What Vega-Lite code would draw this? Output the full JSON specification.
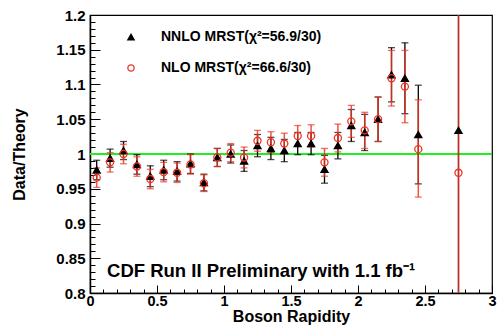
{
  "$schema": "https://vega.github.io/schema/vega-lite/v6.json",
  "width": 402,
  "height": 278,
  "autosize": "none",
  "padding": {"left": 90, "top": 15, "right": 5, "bottom": 35},
  "background": "white",
  "config": {
    "font": "Liberation Sans",
    "view": {"stroke": "black", "strokeWidth": 1.2},
    "axis": {
      "labelFont": "Liberation Sans",
      "labelFontWeight": "bold",
      "labelFontSize": 15,
      "labelColor": "black",
      "titleFont": "Liberation Sans",
      "titleFontWeight": "bold",
      "titleFontSize": 16,
      "titleColor": "black",
      "tickColor": "black",
      "domainColor": "black",
      "grid": false,
      "labelOverlap": false,
      "labelFlush": false
    },
    "legend": {
      "labelFont": "Liberation Sans",
      "labelFontWeight": "bold",
      "labelFontSize": 14,
      "labelColor": "black",
      "labelLimit": 0
    }
  },
  "datasets": {
    "pts": [
      {"x": 0.05, "s": "NNLO MRST(χ²=56.9/30)", "y": 0.977, "lo": 0.963, "hi": 0.991},
      {"x": 0.15, "s": "NNLO MRST(χ²=56.9/30)", "y": 0.994, "lo": 0.981, "hi": 1.007},
      {"x": 0.25, "s": "NNLO MRST(χ²=56.9/30)", "y": 1.005, "lo": 0.992, "hi": 1.018},
      {"x": 0.35, "s": "NNLO MRST(χ²=56.9/30)", "y": 0.985, "lo": 0.971, "hi": 0.999},
      {"x": 0.45, "s": "NNLO MRST(χ²=56.9/30)", "y": 0.968, "lo": 0.953, "hi": 0.983},
      {"x": 0.55, "s": "NNLO MRST(χ²=56.9/30)", "y": 0.977, "lo": 0.963, "hi": 0.991},
      {"x": 0.65, "s": "NNLO MRST(χ²=56.9/30)", "y": 0.975, "lo": 0.961, "hi": 0.989},
      {"x": 0.75, "s": "NNLO MRST(χ²=56.9/30)", "y": 0.986, "lo": 0.972, "hi": 1.0},
      {"x": 0.85, "s": "NNLO MRST(χ²=56.9/30)", "y": 0.959, "lo": 0.947, "hi": 0.971},
      {"x": 0.95, "s": "NNLO MRST(χ²=56.9/30)", "y": 0.995, "lo": 0.982, "hi": 1.008},
      {"x": 1.05, "s": "NNLO MRST(χ²=56.9/30)", "y": 1.0, "lo": 0.987, "hi": 1.013},
      {"x": 1.15, "s": "NNLO MRST(χ²=56.9/30)", "y": 0.99, "lo": 0.975, "hi": 1.005},
      {"x": 1.25, "s": "NNLO MRST(χ²=56.9/30)", "y": 1.012, "lo": 0.996, "hi": 1.028},
      {"x": 1.35, "s": "NNLO MRST(χ²=56.9/30)", "y": 1.008, "lo": 0.992, "hi": 1.024},
      {"x": 1.45, "s": "NNLO MRST(χ²=56.9/30)", "y": 1.005, "lo": 0.989, "hi": 1.021},
      {"x": 1.55, "s": "NNLO MRST(χ²=56.9/30)", "y": 1.015, "lo": 0.999, "hi": 1.031},
      {"x": 1.65, "s": "NNLO MRST(χ²=56.9/30)", "y": 1.015, "lo": 0.999, "hi": 1.031},
      {"x": 1.75, "s": "NNLO MRST(χ²=56.9/30)", "y": 0.978, "lo": 0.958, "hi": 0.998},
      {"x": 1.85, "s": "NNLO MRST(χ²=56.9/30)", "y": 1.012, "lo": 0.993, "hi": 1.031},
      {"x": 1.95, "s": "NNLO MRST(χ²=56.9/30)", "y": 1.041, "lo": 1.018, "hi": 1.064},
      {"x": 2.05, "s": "NNLO MRST(χ²=56.9/30)", "y": 1.031, "lo": 1.005, "hi": 1.057},
      {"x": 2.15, "s": "NNLO MRST(χ²=56.9/30)", "y": 1.05, "lo": 1.018, "hi": 1.082},
      {"x": 2.25, "s": "NNLO MRST(χ²=56.9/30)", "y": 1.114, "lo": 1.075, "hi": 1.153},
      {"x": 2.35, "s": "NNLO MRST(χ²=56.9/30)", "y": 1.109, "lo": 1.058, "hi": 1.16},
      {"x": 2.45, "s": "NNLO MRST(χ²=56.9/30)", "y": 1.028, "lo": 0.957, "hi": 1.099},
      {"x": 2.75, "s": "NNLO MRST(χ²=56.9/30)", "y": 1.034, "lo": 0.7, "hi": 1.4},
      {"x": 0.05, "s": "NLO MRST(χ²=66.6/30)", "y": 0.966, "lo": 0.952, "hi": 0.98},
      {"x": 0.15, "s": "NLO MRST(χ²=66.6/30)", "y": 0.988, "lo": 0.974, "hi": 1.002},
      {"x": 0.25, "s": "NLO MRST(χ²=66.6/30)", "y": 1.0, "lo": 0.986, "hi": 1.014},
      {"x": 0.35, "s": "NLO MRST(χ²=66.6/30)", "y": 0.982, "lo": 0.968, "hi": 0.996},
      {"x": 0.45, "s": "NLO MRST(χ²=66.6/30)", "y": 0.964, "lo": 0.95, "hi": 0.978},
      {"x": 0.55, "s": "NLO MRST(χ²=66.6/30)", "y": 0.974, "lo": 0.96, "hi": 0.988},
      {"x": 0.65, "s": "NLO MRST(χ²=66.6/30)", "y": 0.973, "lo": 0.959, "hi": 0.987},
      {"x": 0.75, "s": "NLO MRST(χ²=66.6/30)", "y": 0.985, "lo": 0.971, "hi": 0.999},
      {"x": 0.85, "s": "NLO MRST(χ²=66.6/30)", "y": 0.958, "lo": 0.946, "hi": 0.97},
      {"x": 0.95, "s": "NLO MRST(χ²=66.6/30)", "y": 0.995, "lo": 0.982, "hi": 1.008},
      {"x": 1.05, "s": "NLO MRST(χ²=66.6/30)", "y": 1.002, "lo": 0.989, "hi": 1.015},
      {"x": 1.15, "s": "NLO MRST(χ²=66.6/30)", "y": 0.995, "lo": 0.98, "hi": 1.01},
      {"x": 1.25, "s": "NLO MRST(χ²=66.6/30)", "y": 1.019, "lo": 1.004, "hi": 1.034},
      {"x": 1.35, "s": "NLO MRST(χ²=66.6/30)", "y": 1.017, "lo": 1.002, "hi": 1.032},
      {"x": 1.45, "s": "NLO MRST(χ²=66.6/30)", "y": 1.015, "lo": 1.0, "hi": 1.03},
      {"x": 1.55, "s": "NLO MRST(χ²=66.6/30)", "y": 1.026, "lo": 1.011, "hi": 1.041},
      {"x": 1.65, "s": "NLO MRST(χ²=66.6/30)", "y": 1.026, "lo": 1.01, "hi": 1.042},
      {"x": 1.75, "s": "NLO MRST(χ²=66.6/30)", "y": 0.988, "lo": 0.968, "hi": 1.008},
      {"x": 1.85, "s": "NLO MRST(χ²=66.6/30)", "y": 1.023, "lo": 1.003, "hi": 1.043},
      {"x": 1.95, "s": "NLO MRST(χ²=66.6/30)", "y": 1.047, "lo": 1.024, "hi": 1.07},
      {"x": 2.05, "s": "NLO MRST(χ²=66.6/30)", "y": 1.034, "lo": 1.008, "hi": 1.06},
      {"x": 2.15, "s": "NLO MRST(χ²=66.6/30)", "y": 1.05, "lo": 1.018, "hi": 1.082},
      {"x": 2.25, "s": "NLO MRST(χ²=66.6/30)", "y": 1.109, "lo": 1.069, "hi": 1.149},
      {"x": 2.35, "s": "NLO MRST(χ²=66.6/30)", "y": 1.097, "lo": 1.045, "hi": 1.149},
      {"x": 2.45, "s": "NLO MRST(χ²=66.6/30)", "y": 1.007, "lo": 0.938, "hi": 1.078},
      {"x": 2.75, "s": "NLO MRST(χ²=66.6/30)", "y": 0.973, "lo": 0.6, "hi": 1.4}
    ],
    "note": [{"label": "CDF Run II Preliminary with 1.1 fb⁻¹"}]
  },
  "data": {"name": "pts"},
  "resolve": {"axis": {"x": "independent", "y": "independent"}},
  "layer": [
    {
      "mark": {"type": "rule", "color": "#22ee22", "strokeWidth": 1.6},
      "encoding": {
        "x": {"datum": 0, "type": "quantitative", "scale": {"domain": [0, 3], "nice": false, "zero": false},
          "axis": {"orient": "bottom", "values": [0,0.1,0.2,0.3,0.4,0.5,0.6,0.7,0.8,0.9,1,1.1,1.2,1.3,1.4,1.5,1.6,1.7,1.8,1.9,2,2.1,2.2,2.3,2.4,2.5,2.6,2.7,2.8,2.9,3], "tickSize": -4, "labels": false, "domain": false, "title": null}},
        "x2": {"datum": 3},
        "y": {"datum": 1, "type": "quantitative", "scale": {"domain": [0.8, 1.2], "nice": false, "zero": false},
          "axis": {"orient": "left", "values": [0.8,0.81,0.82,0.83,0.84,0.85,0.86,0.87,0.88,0.89,0.9,0.91,0.92,0.93,0.94,0.95,0.96,0.97,0.98,0.99,1,1.01,1.02,1.03,1.04,1.05,1.06,1.07,1.08,1.09,1.1,1.11,1.12,1.13,1.14,1.15,1.16,1.17,1.18,1.19,1.2], "tickSize": -5, "labels": false, "domain": false, "title": null}}
      }
    },
    {
      "transform": [{"filter": "datum.s == 'NNLO MRST(χ²=56.9/30)'"}],
      "layer": [
        {
          "mark": {"type": "rule", "color": "black", "strokeWidth": 1.3, "clip": true},
          "encoding": {
            "x": {"field": "x", "type": "quantitative", "scale": {"domain": [0, 3], "nice": false, "zero": false}, "axis": null},
            "y": {"field": "lo", "type": "quantitative", "scale": {"domain": [0.8, 1.2], "nice": false, "zero": false}, "axis": null},
            "y2": {"field": "hi"}
          }
        },
        {
          "mark": {"type": "tick", "orient": "horizontal", "color": "black", "thickness": 1.3, "size": 7, "clip": true},
          "encoding": {
            "x": {"field": "x", "type": "quantitative", "scale": {"domain": [0, 3], "nice": false, "zero": false}, "axis": null},
            "y": {"field": "lo", "type": "quantitative", "scale": {"domain": [0.8, 1.2], "nice": false, "zero": false}, "axis": null}
          }
        },
        {
          "mark": {"type": "tick", "orient": "horizontal", "color": "black", "thickness": 1.3, "size": 7, "clip": true},
          "encoding": {
            "x": {"field": "x", "type": "quantitative", "scale": {"domain": [0, 3], "nice": false, "zero": false}, "axis": null},
            "y": {"field": "hi", "type": "quantitative", "scale": {"domain": [0.8, 1.2], "nice": false, "zero": false}, "axis": null}
          }
        }
      ]
    },
    {
      "transform": [{"filter": "datum.s == 'NLO MRST(χ²=66.6/30)'"}],
      "layer": [
        {
          "mark": {"type": "rule", "color": "#ee3322", "opacity": 0.85, "strokeWidth": 1.5, "clip": true},
          "encoding": {
            "x": {"field": "x", "type": "quantitative", "scale": {"domain": [0, 3], "nice": false, "zero": false}, "axis": null},
            "y": {"field": "lo", "type": "quantitative", "scale": {"domain": [0.8, 1.2], "nice": false, "zero": false}, "axis": null},
            "y2": {"field": "hi"}
          }
        },
        {
          "mark": {"type": "tick", "orient": "horizontal", "color": "#ee3322", "thickness": 1.3, "size": 7, "clip": true},
          "encoding": {
            "x": {"field": "x", "type": "quantitative", "scale": {"domain": [0, 3], "nice": false, "zero": false}, "axis": null},
            "y": {"field": "lo", "type": "quantitative", "scale": {"domain": [0.8, 1.2], "nice": false, "zero": false}, "axis": null}
          }
        },
        {
          "mark": {"type": "tick", "orient": "horizontal", "color": "#ee3322", "thickness": 1.3, "size": 7, "clip": true},
          "encoding": {
            "x": {"field": "x", "type": "quantitative", "scale": {"domain": [0, 3], "nice": false, "zero": false}, "axis": null},
            "y": {"field": "hi", "type": "quantitative", "scale": {"domain": [0.8, 1.2], "nice": false, "zero": false}, "axis": null}
          }
        }
      ]
    },
    {
      "mark": {"type": "point", "strokeWidth": 1.3, "opacity": 1, "clip": true},
      "encoding": {
        "x": {"field": "x", "type": "quantitative", "scale": {"domain": [0, 3], "nice": false, "zero": false},
          "axis": {"orient": "bottom", "values": [0, 0.5, 1, 1.5, 2, 2.5, 3], "format": "~g", "tickSize": -8, "labelPadding": 9, "labelFontSize": 14.5, "domainWidth": 1.5, "title": "Boson Rapidity", "titlePadding": 1}},
        "y": {"field": "y", "type": "quantitative", "scale": {"domain": [0.8, 1.2], "nice": false, "zero": false},
          "axis": {"orient": "left", "values": [0.8, 0.85, 0.9, 0.95, 1, 1.05, 1.1, 1.15, 1.2], "format": "~g", "tickSize": -10, "labelPadding": 15, "domainWidth": 1.5, "title": "Data/Theory", "titlePadding": 28}},
        "shape": {"field": "s", "type": "nominal", "scale": {"domain": ["NNLO MRST(χ²=56.9/30)", "NLO MRST(χ²=66.6/30)"], "range": ["triangle-up", "circle"]},
          "legend": {"title": null, "orient": "none", "legendX": 34, "legendY": 15, "rowPadding": 17, "labelOffset": 23, "symbolSize": 40, "symbolStrokeWidth": 1.3, "padding": 0, "labelLimit": 0}},
        "fill": {"field": "s", "type": "nominal", "scale": {"domain": ["NNLO MRST(χ²=56.9/30)", "NLO MRST(χ²=66.6/30)"], "range": ["black", "transparent"]},
          "legend": {"title": null, "orient": "none", "legendX": 34, "legendY": 15, "rowPadding": 17, "labelOffset": 23, "symbolSize": 40, "symbolStrokeWidth": 1.3, "padding": 0, "labelLimit": 0}},
        "stroke": {"field": "s", "type": "nominal", "scale": {"domain": ["NNLO MRST(χ²=56.9/30)", "NLO MRST(χ²=66.6/30)"], "range": ["black", "#ee3322"]},
          "legend": {"title": null, "orient": "none", "legendX": 34, "legendY": 15, "rowPadding": 17, "labelOffset": 23, "symbolSize": 40, "symbolStrokeWidth": 1.3, "padding": 0, "labelLimit": 0}},
        "size": {"value": 50}
      }
    },
    {
      "data": {"name": "note"},
      "mark": {"type": "text", "align": "left", "baseline": "alphabetic", "fontSize": 18.5, "fontWeight": "bold", "font": "Liberation Sans", "color": "black"},
      "encoding": {
        "x": {"datum": 0.127, "type": "quantitative", "scale": {"domain": [0, 3], "nice": false, "zero": false}, "axis": null},
        "y": {"datum": 0.823, "type": "quantitative", "scale": {"domain": [0.8, 1.2], "nice": false, "zero": false}, "axis": null},
        "text": {"field": "label"}
      }
    }
  ]
}
